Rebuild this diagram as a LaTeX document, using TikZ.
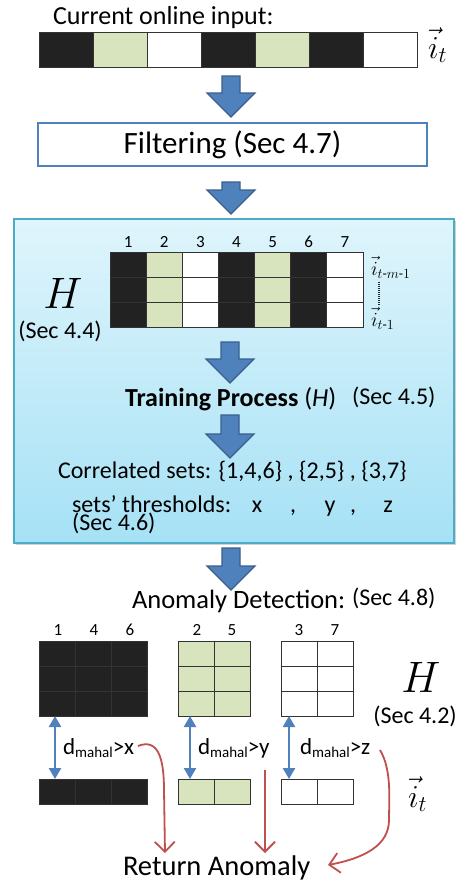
\RequirePackage{fix-cm}
\documentclass[tikz,border=0pt]{standalone}
\usepackage{amsmath}
\usepackage{fontspec}
\setmainfont{Carlito}
\usetikzlibrary{arrows.meta,shadows}
\definecolor{blk}{HTML}{222222}
\definecolor{grn}{HTML}{D7E4BD}
\definecolor{wht}{HTML}{FFFFFF}
\definecolor{barrowfill}{HTML}{4F81BD}
\definecolor{barrowline}{HTML}{3A5F8C}
\definecolor{boxtop}{HTML}{DFF5FC}
\definecolor{boxbot}{HTML}{A6E1F5}
\definecolor{boxline}{HTML}{4BACC6}
\definecolor{redarr}{HTML}{C0504D}
\newcommand\fs[1]{\fontsize{#1}{#1}\selectfont}
\newcommand\blockarrow[3]{%
  \draw[barrow] ({#1-9},#2) -- ({#1+9},#2) -- ({#1+9},{#3-24}) -- ({#1+24},{#3-24}) -- (#1,#3) -- ({#1-24},{#3-24}) -- ({#1-9},{#3-24}) -- cycle;}
\begin{document}
\begin{tikzpicture}[x=1pt,y=-1pt,
  cellst/.style={draw=black!80,line width=0.7pt},
  barrow/.style={fill=barrowfill,draw=barrowline,line width=1.2pt,line join=miter},
  txt/.style={inner sep=0pt,outer sep=0pt},
  darrow/.style={draw=barrowfill,line width=2.5pt,{Triangle[length=11pt,width=12pt]}-{Triangle[length=11pt,width=12pt]}},
  rarrow/.style={draw=redarr,line width=1.8pt,-{Straight Barb[length=10pt,width=20pt,line width=1.8pt]}},
]
\useasboundingbox (0,0) rectangle (463,884);
\fill[white] (0,0) rectangle (463,884);

% ---- current input
\node[txt,anchor=base west,font=\fs{26}] (cur) at (53,24) {Current online input:};
\foreach \c [count=\k from 0] in {blk,grn,wht,blk,grn,blk,wht}
  \draw[cellst,fill=\c] ({39+54*\k},32) rectangle ++(54,35);
\node[txt,anchor=base west,font=\fs{32}] (it1) at (428,58) {$\vec{i}_t$};

\blockarrow{231}{76}{117}

% ---- filtering
\node[draw=barrowfill,line width=2.8pt,fill=white,minimum width=389pt,minimum height=43pt,inner sep=0pt,font=\fs{31}] (filt) at (232.5,144.5) {Filtering (Sec 4.7)};

\blockarrow{231}{182}{214}

% ---- big box
\node[draw=boxline,line width=1.5pt,top color=boxtop,bottom color=boxbot,drop shadow={opacity=0.35,shadow xshift=2pt,shadow yshift=-2pt},minimum width=440pt,minimum height=324pt,anchor=north west,inner sep=0pt] (hbox) at (13,218) {};

\foreach \k in {1,...,7}
  \node[txt,anchor=base,font=\fs{17}] (hn\k) at ({110+36.14*(\k-0.5)},247) {\k};
\foreach \c [count=\k from 0] in {blk,grn,wht,blk,grn,blk,wht}
  \foreach \r in {0,1,2}
    \draw[cellst,fill=\c] ({110+36.14*\k},{252+25*\r}) rectangle ++(36.14,25);

\node[txt,anchor=base,font=\fs{44}] (H1) at (63,308) {$H$};
\node[txt,anchor=base,font=\fs{24}] (s44) at (60,338) {(Sec 4.4)};

\node[txt,anchor=base west,font=\fs{20}] (itm) at (371,275) {$\vec{i}_{t\text{-}m\text{-}1}$};
\node[txt,anchor=base west,font=\fs{20}] (itp) at (371,326) {$\vec{i}_{t\text{-}1}$};
\coordinate (dtop) at (379,282);
\coordinate (dbot) at (379,306);
\draw[line width=2pt,dash pattern=on 1pt off 1pt,black!85] (dtop) -- (dbot);

\blockarrow{230}{342}{383}

\node[txt,anchor=base west,font=\fs{26}] (train) at (125,406) {\textbf{Training Process} (\textit{H})};
\node[txt,anchor=base west,font=\fs{24}] (s45) at (352,404) {(Sec 4.5)};

\blockarrow{230}{415}{458}

\node[txt,anchor=base west,font=\fs{24}] (corr) at (58,478) {Correlated sets: \{1,4,6\} , \{2,5\} , \{3,7\}};
\node[txt,anchor=base west,font=\fs{24}] (thr) at (72,512) {sets' thresholds:};
\node[txt,anchor=base,font=\fs{24}] (tx) at (257,512) {x};
\node[txt,anchor=base,font=\fs{24}] (tc1) at (293,512) {,};
\node[txt,anchor=base,font=\fs{24}] (ty) at (330,512) {y};
\node[txt,anchor=base,font=\fs{24}] (tc2) at (353,512) {,};
\node[txt,anchor=base,font=\fs{24}] (tz) at (388,512) {z};
\node[txt,anchor=base west,font=\fs{24}] (s46) at (72,530) {(Sec 4.6)};

\blockarrow{231}{548}{590}

% ---- anomaly detection
\node[txt,anchor=base west,font=\fs{26.5}] (anom) at (132,608) {Anomaly Detection:};
\node[txt,anchor=base west,font=\fs{24}] (s48) at (352,605) {(Sec 4.8)};

\node[txt,anchor=base,font=\fs{17}] (n1) at (58,635) {1};
\node[txt,anchor=base,font=\fs{17}] (n4) at (94,635) {4};
\node[txt,anchor=base,font=\fs{17}] (n6) at (130,635) {6};
\node[txt,anchor=base,font=\fs{17}] (n2) at (197,635) {2};
\node[txt,anchor=base,font=\fs{17}] (n5) at (232,635) {5};
\node[txt,anchor=base,font=\fs{17}] (n3) at (299,635) {3};
\node[txt,anchor=base,font=\fs{17}] (n7) at (335,635) {7};

\foreach \x/\n/\c in {39/3/blk,178/2/grn,281/2/wht} {
  \foreach \k in {1,...,\n} {
    \foreach \r in {0,1,2}
      \draw[cellst,fill=\c] ({\x+36.2*(\k-1)},{641+25*\r}) rectangle ++(36.2,25);
    \draw[cellst,fill=\c] ({\x+36.2*(\k-1)},779) rectangle ++(36.2,25);
  }
}

\node[txt,anchor=base,font=\fs{44}] (H2) at (421,692) {$H$};
\node[txt,anchor=base,font=\fs{24}] (s42) at (415,723) {(Sec 4.2)};
\node[txt,anchor=base west,font=\fs{32}] (it2) at (408,807) {$\vec{i}_t$};

\coordinate (b1t) at (55,716); \coordinate (b1b) at (55,779);
\coordinate (b2t) at (190,716); \coordinate (b2b) at (190,779);
\coordinate (b3t) at (289,716); \coordinate (b3b) at (289,779);
\draw[darrow] (b1t) -- (b1b);
\draw[darrow] (b2t) -- (b2b);
\draw[darrow] (b3t) -- (b3b);

\node[txt,anchor=base west,font=\fs{23}] (dx) at (63,754) {d\raisebox{-3pt}{\fs{15}mahal}>x};
\node[txt,anchor=base west,font=\fs{23}] (dy) at (198,754) {d\raisebox{-3pt}{\fs{15}mahal}>y};
\node[txt,anchor=base west,font=\fs{23}] (dz) at (300,754) {d\raisebox{-3pt}{\fs{15}mahal}>z};

\node[txt,anchor=base west,font=\fs{28.5}] (ret) at (123,875) {Return Anomaly};

\coordinate (r1s) at (138,746);
\coordinate (r1e) at (165,853);
\coordinate (r2s) at (265,770);
\coordinate (r2e) at (265,853);
\coordinate (r3s) at (380,750);
\coordinate (r3e) at (328,865);
\draw[rarrow] (r1s) .. controls (158,738) and (164,758) .. (164,790) -- (r1e);
\draw[rarrow] (r2s) -- (r2e);
\draw[rarrow] (r3s) .. controls (392,770) and (389,800) .. (389,820) .. controls (389,845) and (365,858) .. (r3e);
\end{tikzpicture}
\end{document}
